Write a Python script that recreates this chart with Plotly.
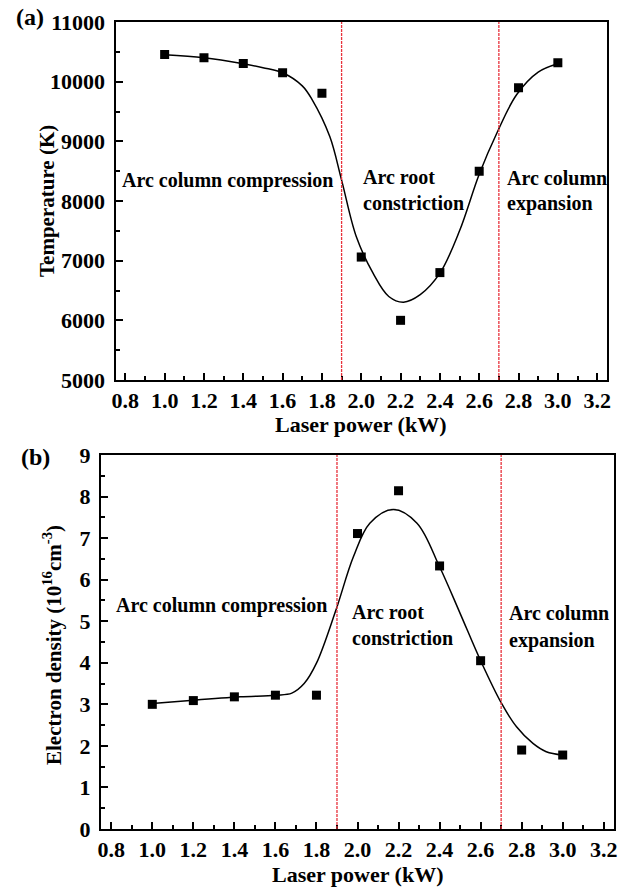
import plotly.graph_objects as go

W, H = 623, 888

# ---------------- data ----------------
power = [1.0, 1.2, 1.4, 1.6, 1.8, 2.0, 2.2, 2.4, 2.6, 2.8, 3.0]
temperature = [10455, 10400, 10305, 10150, 9805, 7060, 6000, 6800, 8500, 9900, 10315]
density = [3.00, 3.09, 3.18, 3.22, 3.22, 7.11, 8.14, 6.33, 4.05, 1.90, 1.78]

# fitted curves
t_fit_x = [1.0, 1.2, 1.4, 1.5, 1.6, 1.7, 1.75, 1.84, 1.9, 1.975, 2.06, 2.14, 2.215, 2.3, 2.4, 2.5, 2.6, 2.69, 2.79, 2.9, 3.0]
t_fit_y = [10450, 10400, 10300, 10235, 10150, 9930, 9700, 9080, 8350, 7400, 6790, 6400, 6305, 6430, 6790, 7500, 8450, 9140, 9780, 10160, 10300]

d_fit_x = [1.0, 1.2, 1.43, 1.6, 1.68, 1.74, 1.8, 1.895, 1.98, 2.06, 2.175, 2.29, 2.4, 2.5, 2.6, 2.7, 2.775, 2.855, 2.92, 3.0]
d_fit_y = [3.02, 3.10, 3.18, 3.22, 3.27, 3.50, 3.99, 5.27, 6.55, 7.36, 7.69, 7.36, 6.31, 5.19, 4.05, 3.04, 2.46, 2.06, 1.86, 1.78]

boundaries = [1.9, 2.7]

x_ticks = [0.8, 1.0, 1.2, 1.4, 1.6, 1.8, 2.0, 2.2, 2.4, 2.6, 2.8, 3.0, 3.2]
t_ticks = [5000, 6000, 7000, 8000, 9000, 10000, 11000]
d_ticks = [0, 1, 2, 3, 4, 5, 6, 7, 8, 9]

FONT = "Liberation Serif"

def px_x(p):
    return p / W

def px_y(p):
    return 1 - p / H

fig = go.Figure()

# top panel
fig.add_trace(go.Scatter(x=t_fit_x, y=t_fit_y, mode="lines", line=dict(color="black", width=1.5, shape="spline", smoothing=1.0),
                         xaxis="x", yaxis="y", showlegend=False, hoverinfo="skip"))
fig.add_trace(go.Scatter(x=power, y=temperature, mode="markers", marker=dict(symbol="square", size=9, color="black"),
                         xaxis="x", yaxis="y", showlegend=False))
# bottom panel
fig.add_trace(go.Scatter(x=d_fit_x, y=d_fit_y, mode="lines", line=dict(color="black", width=1.5, shape="spline", smoothing=1.0),
                         xaxis="x2", yaxis="y2", showlegend=False, hoverinfo="skip"))
fig.add_trace(go.Scatter(x=power, y=density, mode="markers", marker=dict(symbol="square", size=9, color="black"),
                         xaxis="x2", yaxis="y2", showlegend=False))

shapes = []
for b in boundaries:
    for xr, yr in (("x", "y"), ("x2", "y2")):
        shapes.append(dict(type="line", xref=xr, yref=yr + " domain", x0=b, x1=b, y0=0, y1=1,
                           line=dict(color="#e8323c", width=1.3, dash="3px,1px")))

tickfont = dict(family=FONT, size=22, color="black", weight="bold")

def xaxis(domain, anchor):
    return dict(domain=domain, anchor=anchor, range=[0.75, 3.25], tickvals=x_ticks,
                ticktext=[f"{v:.1f}" for v in x_ticks], ticks="inside", ticklen=7, tickwidth=1.5,
                tickcolor="black", showline=True, linecolor="black", linewidth=2, mirror=True,
                showgrid=False, zeroline=False, tickfont=tickfont, automargin=False,
                minor=dict(ticks="inside", ticklen=4, tickwidth=1.5, tickcolor="black", dtick=0.1, tick0=0.8))

def yaxis(domain, anchor, rng, ticks, minor_dt):
    return dict(domain=domain, anchor=anchor, range=rng, tickvals=ticks, ticktext=[str(v) for v in ticks],
                ticks="inside", ticklen=7, tickwidth=1.5, ticklabelstandoff=4,
                tickcolor="black", showline=True, linecolor="black", linewidth=2, mirror=True,
                showgrid=False, zeroline=False, tickfont=tickfont, automargin=False,
                minor=dict(ticks="inside", ticklen=4, tickwidth=1.5, tickcolor="black", dtick=minor_dt, tick0=ticks[0]))

layout = dict(
    width=W, height=H, margin=dict(l=0, r=0, t=0, b=0, pad=0, autoexpand=False),
    paper_bgcolor="white", plot_bgcolor="white",
    xaxis=xaxis([px_x(115.5), px_x(607)], "y"),
    yaxis=yaxis([px_y(380), px_y(22)], "x", [5000, 11000], t_ticks, 500),
    xaxis2=xaxis([px_x(101), px_x(614)], "y2"),
    yaxis2=yaxis([px_y(829), px_y(455)], "x2", [0, 9], d_ticks, 0.5),
    shapes=shapes,
    showlegend=False,
)
fig.update_layout(**layout)

def ann(text, x, y, size=20, xanchor="left", angle=0):
    fig.add_annotation(text=text, xref="paper", yref="paper", x=px_x(x), y=px_y(y), xanchor=xanchor,
                       yanchor="middle", showarrow=False, textangle=angle,
                       font=dict(family=FONT, size=size, color="black", weight="bold"))

# panel labels
ann("(a)", 14, 17, size=24)
ann("(b)", 19, 457, size=24)

# region labels top
ann("Arc column compression", 120, 181)
ann("Arc root", 361, 177)
ann("constriction", 361, 203)
ann("Arc column", 505, 178)
ann("expansion", 505, 203)
# region labels bottom
ann("Arc column compression", 114, 605)
ann("Arc root", 350, 612)
ann("constriction", 350, 638)
ann("Arc column", 507, 613)
ann("expansion", 507, 640)

# axis titles
ann("Laser power (kW)", (115.5 + 607) / 2, 424, size=22, xanchor="center")
ann("Laser power (kW)", (101 + 614) / 2, 874, size=22, xanchor="center")
ann("Temperature (K)", 47, 201, size=21, xanchor="center", angle=-90)
ann("Electron density (10<sup>16</sup>cm<sup>-3</sup>)", 52, 645, size=21, xanchor="center", angle=-90)

fig.write_html("out.html")
